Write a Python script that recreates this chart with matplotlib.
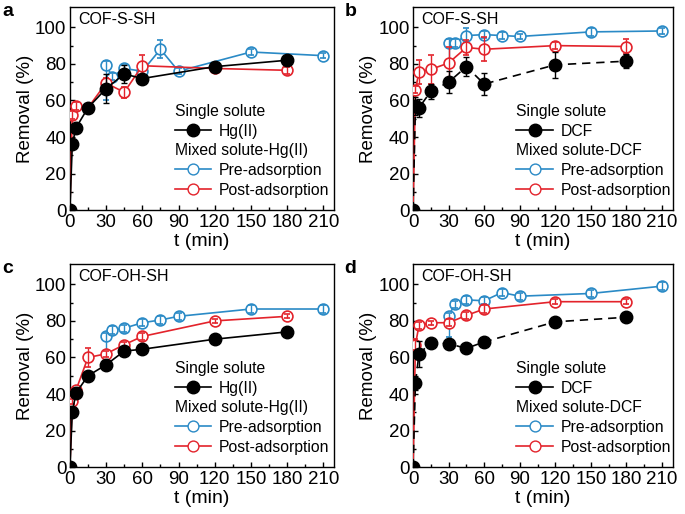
import numpy as np
import matplotlib
matplotlib.use("Agg")
import matplotlib.pyplot as plt
from matplotlib.lines import Line2D

plt.rcParams['font.family'] = ['Liberation Sans', 'DejaVu Sans']

# time points (min)
t_single = [0, 2, 5, 15, 30, 45, 60, 120, 180]
t_pre = [30, 35, 45, 60, 75, 90, 150, 210]

# panel a: COF-S-SH, Hg(II)
a_black = [0, 36, 45, 56, 66.5, 74.5, 72, 78.5, 82]
a_black_err = [0, 2, 2, 2, 8, 5, 2, 2, 2]
a_red = [0, 52, 57, 56, 69.5, 64.5, 79, 77.5, 76.5]
a_red_err = [0, 2, 2, 2, 3, 3, 6, 2, 2]
a_blue = [79.5, 73, 77.5, 76, 88, 76, 86.5, 84.5]
a_blue_lo = [19, 2, 2, 2, 5, 1.5, 1.5, 1.5]
a_blue_hi = [2, 2, 2, 2, 5, 1.5, 1.5, 1.5]

# panel b: COF-S-SH, DCF
b_black = [0, 57, 56, 65, 70, 78.5, 69, 79.5, 81.5]
b_black_err = [0, 5, 5, 4, 6, 5, 6, 7, 4]
b_red = [0, 66, 75.5, 77, 80.5, 89, 88, 90, 89.5]
b_red_err = [0, 2, 6.5, 8, 9, 4, 6.5, 2, 4]
b_blue = [91.5, 91.5, 95.5, 96, 95.5, 95, 97.5, 98]
b_blue_lo = [11.5, 2, 4, 2, 2, 1.5, 2, 1.5]
b_blue_hi = [2, 2, 4, 2, 2, 1.5, 2, 1.5]

# panel c: COF-OH-SH, Hg(II)
c_black = [0, 30, 40.5, 50, 56, 63.5, 64.5, 70, 74]
c_black_err = [0, 1.5, 1.5, 1.5, 1.5, 1.5, 1.5, 1.5, 1.5]
c_red = [0, 36, 42, 60, 62, 67, 71.5, 80, 82.5]
c_red_err = [0, 1.5, 1.5, 5, 1.5, 1.5, 2, 1, 1]
c_blue = [71.5, 75, 76, 79, 80.5, 82.5, 86.5, 86.5]
c_blue_lo = [9.5, 2, 2, 2, 2, 2, 2, 2]
c_blue_hi = [2, 2, 2, 2, 2, 2, 2, 2]

# panel d: COF-OH-SH, DCF
d_black = [0, 46, 62, 68, 67.5, 65, 68.5, 79.5, 82]
d_black_err = [0, 4, 7, 1.5, 1.5, 1.5, 1.5, 1.5, 1.5]
d_red = [0, 67, 77.5, 79, 79, 83, 86.5, 90.5, 90.5]
d_red_err = [0, 3, 2, 1, 2, 2, 2, 1.5, 1.5]
d_blue = [82.5, 89, 91.5, 91, 95.5, 93.5, 95, 99]
d_blue_lo = [11.5, 2, 2, 2, 2, 2, 2, 2]
d_blue_hi = [2, 2, 2, 2, 2, 2, 2, 2]

BLUE = '#2a8ac6'
RED = '#e3232b'

panels = [
    ('a', 'COF-S-SH', 'Hg(II)', '-', a_black, a_black_err, a_red, a_red_err, a_blue, a_blue_lo, a_blue_hi),
    ('b', 'COF-S-SH', 'DCF', '--', b_black, b_black_err, b_red, b_red_err, b_blue, b_blue_lo, b_blue_hi),
    ('c', 'COF-OH-SH', 'Hg(II)', '-', c_black, c_black_err, c_red, c_red_err, c_blue, c_blue_lo, c_blue_hi),
    ('d', 'COF-OH-SH', 'DCF', '--', d_black, d_black_err, d_red, d_red_err, d_blue, d_blue_lo, d_blue_hi),
]

positions = [
    [0.102, 0.591, 0.386, 0.395],
    [0.603, 0.591, 0.379, 0.395],
    [0.102, 0.091, 0.386, 0.395],
    [0.603, 0.091, 0.379, 0.395],
]
letter_pos = [(0.003, 0.995), (0.503, 0.995), (0.003, 0.495), (0.503, 0.495)]

fig = plt.figure(figsize=(6.85, 5.14), dpi=100)

for (letter, title, solute, bls, bk, bk_e, rd, rd_e, bl, bl_lo, bl_hi), pos, lp in zip(panels, positions, letter_pos):
    ax = fig.add_axes(pos)
    ax.errorbar(t_pre, bl, yerr=[bl_lo, bl_hi], color=BLUE, lw=1.2, marker='o', ms=7.8,
                mfc='white', mec=BLUE, mew=1.2, capsize=2.5, elinewidth=1, barsabove=True, zorder=2)
    ax.errorbar(t_single, rd, yerr=rd_e, color=RED, lw=1.2, marker='o', ms=7.8,
                mfc='white', mec=RED, mew=1.2, capsize=2.5, elinewidth=1, barsabove=True, zorder=3)
    hk = ax.errorbar(t_single, bk, yerr=bk_e, color='black', lw=1.2, ls=bls, marker='o', ms=9,
                     mfc='black', mec='black', capsize=2.5, elinewidth=1, zorder=4)
    if bls == '--':
        hk.lines[0].set_dashes((5, 3.5))

    ax.set_xlim(0, 219)
    ax.set_ylim(0, 111)
    ax.set_xticks(np.arange(0, 211, 30))
    ax.set_xticks(np.arange(15, 211, 30), minor=True)
    ax.set_yticks(np.arange(0, 101, 20))
    ax.set_yticks(np.arange(10, 101, 20), minor=True)
    ax.tick_params(which='both', direction='in', labelsize=13.5, pad=2.5)
    ax.tick_params(which='major', length=3.5, width=1)
    ax.tick_params(which='minor', length=2, width=1)
    for sp in ax.spines.values():
        sp.set_linewidth(1)
    ax.set_xlabel('t (min)', fontsize=14, labelpad=1.5)
    ax.set_ylabel('Removal (%)', fontsize=13.5, labelpad=1)
    ax.text(0.03, 0.975, title, transform=ax.transAxes, ha='left', va='top', fontsize=11.5)
    fig.text(lp[0], lp[1], letter, ha='left', va='top', fontsize=14, fontweight='bold')

    blank = Line2D([], [], ls='none')
    leg_handles = [blank, Line2D([], [], color='black', lw=1.2, marker='o', ms=9), blank,
                   Line2D([], [], color=BLUE, lw=1.2, marker='o', ms=7.8, mfc='white', mec=BLUE),
                   Line2D([], [], color=RED, lw=1.2, marker='o', ms=7.8, mfc='white', mec=RED)]
    headers = ['Single solute', 'Mixed solute-' + solute]
    leg_labels = [headers[0], solute, headers[1], 'Pre-adsorption', 'Post-adsorption']
    leg = ax.legend(leg_handles, leg_labels, loc='lower left', bbox_to_anchor=(0.35, 0.0),
                    frameon=False, fontsize=11.3, handlelength=2.3, handletextpad=0.5,
                    labelspacing=0.3, borderpad=0.3)
    # headers start where the handles start
    for col in leg._legend_handle_box.get_children():
        for row in col.get_children():
            da, txt = row.get_children()
            if txt.get_text() in headers:
                da.width = 0
                row.sep = 0

fig.savefig('out.png', dpi=100)
